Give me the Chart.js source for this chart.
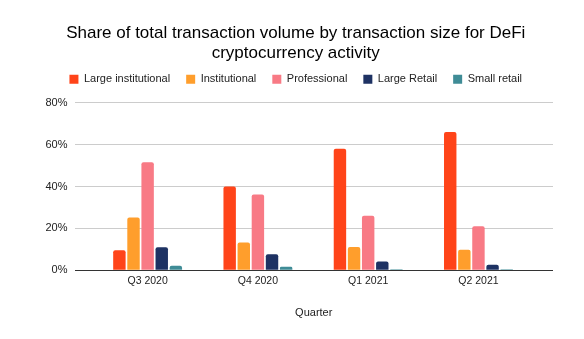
<!DOCTYPE html>
<html>
<head>
<meta charset="utf-8">
<script src="https://cdn.jsdelivr.net/npm/chart.js@4"></script>
<style>
  html, body { margin: 0; padding: 0; background: #fff; }
  #wrap { width: 584px; height: 339px; }
</style>
</head>
<body>
<div id="wrap"><canvas id="myChart"></canvas></div>
<script>
var quarters = ['Q3 2020', 'Q4 2020', 'Q1 2021', 'Q2 2021'];
var largeInstitutional = [9.5, 40, 58, 66];
var institutional = [25.2, 13.2, 11.1, 9.8];
var professional = [51.6, 36.2, 26, 21];
var largeRetail = [11, 7.6, 4.2, 2.6];
var smallRetail = [2.1, 1.6, 0.5, 0.4];
var yTicks = [0, 20, 40, 60, 80];

function toPoints(values) {
  return values.map(function(v, idx) { return {x: idx, y: v}; });
}

function makeSet(label, values, color) {
  return {
    label: label,
    data: toPoints(values),
    backgroundColor: color,
    borderRadius: {topLeft: 2, topRight: 2},
    borderSkipped: 'bottom',
    categoryPercentage: 0.64,
    barPercentage: 0.88
  };
}

// a bit of room under the legend, like the original
var legendGap = {
  id: 'legendGap',
  beforeInit: function(chart) {
    var origFit = chart.legend.fit;
    chart.legend.fit = function() {
      origFit.call(this);
      this.height += 8;
    };
  }
};

Chart.defaults.font.family = "'Liberation Sans', Arial, sans-serif";
Chart.defaults.color = '#222';

var ctx = document.getElementById('myChart').getContext('2d');
var myChart = new Chart(ctx, {
  type: 'bar',
  data: {
    datasets: [
      makeSet('Large institutional', largeInstitutional, '#FF4419'),
      makeSet('Institutional', institutional, '#FF9E2C'),
      makeSet('Professional', professional, '#F87A85'),
      makeSet('Large Retail', largeRetail, '#1E3263'),
      makeSet('Small retail', smallRetail, '#3F8C96')
    ]
  },
  plugins: [legendGap],
  options: {
    responsive: true,
    maintainAspectRatio: false,
    animation: false,
    layout: { padding: { left: 38.5, right: 31, top: 0, bottom: 19 } },
    plugins: {
      title: {
        display: true,
        text: ['Share of total transaction volume by transaction size for DeFi', 'cryptocurrency activity'],
        font: { size: 17, weight: 'normal' },
        color: '#000',
        padding: { top: 23, bottom: -6 },
        lineHeight: 1.3
      },
      legend: {
        display: true,
        labels: {
          boxWidth: 9,
          boxHeight: 9,
          padding: 16,
          font: { size: 11 },
          color: '#222'
        }
      },
      tooltip: { enabled: false }
    },
    scales: {
      x: {
        type: 'linear',
        offset: false,
        min: -0.663,
        max: 3.676,
        afterBuildTicks: function(scale) {
          scale.ticks = quarters.map(function(q, idx) { return {value: idx}; });
        },
        grid: { display: false, drawTicks: false, tickLength: 0 },
        border: { display: false },
        ticks: {
          padding: 5,
          autoSkip: false,
          maxRotation: 0,
          font: { size: 10.5 },
          color: '#222',
          callback: function(value) {
            return quarters[value] || '';
          }
        },
        title: {
          display: true,
          text: 'Quarter',
          font: { size: 11 },
          color: '#222',
          padding: { top: 14, bottom: 0 }
        }
      },
      y: {
        min: 0,
        max: 80,
        afterBuildTicks: function(scale) {
          scale.ticks = yTicks.map(function(v) { return {value: v}; });
        },
        border: { display: false },
        grid: {
          color: function(c) { return c.tick && c.tick.value === 0 ? '#333' : '#ccc'; },
          drawTicks: false
        },
        ticks: {
          padding: 7,
          font: { size: 11 },
          color: '#222',
          callback: function(value) { return value + '%'; }
        }
      }
    }
  }
});
</script>
</body>
</html>
